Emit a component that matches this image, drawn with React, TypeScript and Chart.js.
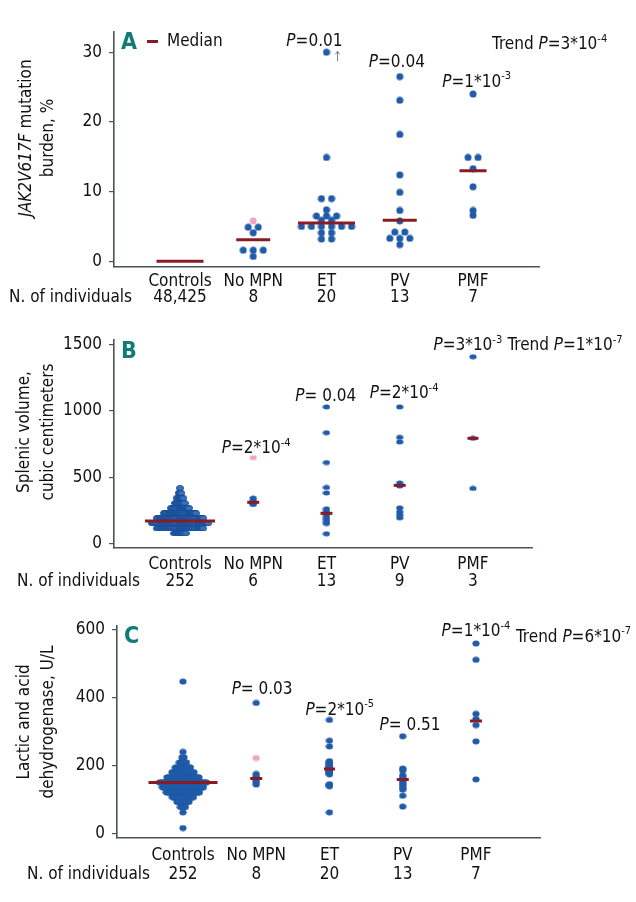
import React, { useEffect, useRef } from 'react';
import { Chart, registerables } from 'chart.js';
Chart.register(...registerables);

// ---------------- data ----------------
const CATEGORIES = ['Controls', 'No MPN', 'ET', 'PV', 'PMF'];
const N_ROW_LABEL = 'N. of individuals';

// Panel A: JAK2V617F mutation burden, %
const A_TICKS = [0, 10, 20, 30];
const A_N = ['48,425', '8', '20', '13', '7'];
const A_CONTROLS: number[] = [];
const A_NOMPN = [4.9, 4.9, 4.1, 1.6, 1.6, 1.6, 0.7];
const A_NOMPN_PINK = [5.8];
const A_ET = [30, 14.9, 9.0, 9.0, 7.4, 6.5, 6.5, 6.5, 5.9, 5.9, 5.0, 5.0, 5.0, 5.0, 5.0, 5.0, 4.1, 4.1, 3.2, 3.2];
const A_PV = [26.5, 23.1, 18.2, 12.4, 9.9, 7.3, 5.8, 4.2, 4.2, 3.3, 3.3, 3.3, 2.4];
const A_PMF = [24.0, 14.9, 14.9, 13.3, 10.7, 7.3, 6.6];
const A_MEDIANS = [0, 3.1, 5.5, 5.9, 13.0];
const A_P_TEXT = ['P=0.01', 'P=0.04', 'P=1*10^-3'];
const A_TREND = 'Trend P=3*10^-4';

// Panel B: splenic volume, cubic centimeters
const B_TICKS = [0, 500, 1000, 1500];
const B_N = ['252', '6', '13', '9', '3'];
const B_CTRL_BINS = [418, 380, 342, 304, 266, 228, 190, 152, 114, 76];
const B_CTRL_COUNTS = [1, 4, 8, 11, 20, 35, 50, 60, 50, 13];
const B_NOMPN = [342, 322, 312, 300, 294];
const B_NOMPN_PINK = [647];
const B_ET = [1030, 835, 610, 422, 381, 261, 240, 225, 205, 185, 165, 150, 73];
const B_PV = [1030, 800, 766, 456, 433, 268, 238, 215, 193];
const B_PMF = [1408, 793, 415];
const B_MEDIANS = [170, 310, 227, 438, 793];
const B_P_TEXT = ['P=2*10^-4', 'P= 0.04', 'P=2*10^-4', 'P=3*10^-3'];
const B_TREND = 'Trend P=1*10^-7';

// Panel C: lactic acid dehydrogenase, U/L
const C_TICKS = [0, 200, 400, 600];
const C_N = ['252', '8', '20', '13', '7'];
const C_CTRL_BINS = [448, 241, 225, 210, 195, 181, 166, 151, 137, 122, 108, 94, 79, 63, 17];
const C_CTRL_COUNTS = [1, 1, 3, 8, 16, 23, 33, 48, 42, 34, 22, 13, 6, 1, 1];
const C_NOMPN = [385, 176, 168, 163, 159, 152, 145];
const C_NOMPN_PINK = [223];
const C_ET = [335, 274, 257, 214, 210, 206, 202, 199, 196, 193, 190, 187, 184, 181, 178, 175, 146, 143, 140, 63];
const C_PV = [287, 192, 186, 172, 165, 160, 155, 148, 142, 135, 130, 112, 80];
const C_PMF = [560, 512, 353, 338, 320, 272, 160];
const C_MEDIANS = [151, 163, 191, 160, 332];
const C_P_TEXT = ['P= 0.03', 'P=2*10^-5', 'P= 0.51', 'P=1*10^-4'];
const C_TREND = 'Trend P=6*10^-7';

// ---------------- style / layout ----------------
const FONT = '"DejaVu Sans Condensed", "Liberation Sans Narrow", sans-serif';
const FS = 17;
const TEXT = '#111111';
const AXIS = '#4a5454';
const DOT = '#1f5ba8';
const DOT_LIGHT = '#3673c2';
const DOT_EDGE = '#174a8e';
const PINK = '#f4a3c6';
const MEDIAN = '#8a1a24';
const TEAL = '#117b77';
const PX_PER_CAT = 73.25;
const W = 636;

type Seg = { t: string; it?: boolean; sup?: boolean };
type Dot = { w: number; h: number; rx: number; ry: number };

interface PanelCfg {
  top: number; height: number;
  area: { l: number; r: number; t: number; b: number };
  xMin: number; xMax: number; yMin: number; yMax: number;
  ticks: number[];
  groups: number[][]; pink: number[][]; medians: number[];
  medianHalf: number[]; stepPx: number[];
  dot: Dot; ctrlEdge: boolean;
  nLabels: string[]; catY: number; nY: number; nRight: number;
  letter: string; title: Seg[][]; titleX: number[]; titleY: number;
  pText: string[]; pAt: number[][]; trend: string; trendAt: number[];
  legend?: boolean; arrow?: { group: number; value: number };
}

function expandBins(vals: number[], counts: number[]) {
  const out: number[] = [];
  vals.forEach((v, i) => { for (let k = 0; k < counts[i]; k++) out.push(v); });
  return out;
}

function swarm(values: number[], center: number, step: number) {
  const counts = new Map<number, number>();
  values.forEach(v => counts.set(v, (counts.get(v) || 0) + 1));
  const pts: { x: number; y: number }[] = [];
  counts.forEach((n, v) => {
    for (let i = 0; i < n; i++) pts.push({ x: center + (i - (n - 1) / 2) * step, y: v });
  });
  return pts;
}

function parseRich(s: string): Seg[] {
  const segs: Seg[] = [];
  let main = s, sup = '';
  const k = s.indexOf('^');
  if (k >= 0) { main = s.slice(0, k); sup = s.slice(k + 1); }
  const p = main.indexOf('P=');
  if (p >= 0) {
    if (p > 0) segs.push({ t: main.slice(0, p) });
    segs.push({ t: 'P', it: true });
    segs.push({ t: main.slice(p + 1) });
  } else segs.push({ t: main });
  if (sup) segs.push({ t: sup, sup: true });
  return segs;
}

function fontFor(seg: Seg, size: number) {
  return `${seg.it ? 'italic ' : ''}${seg.sup ? Math.round(size * 0.62) : size}px ${FONT}`;
}

function drawRich(ctx: CanvasRenderingContext2D, segs: Seg[], x: number, y: number, align: string, size: number) {
  let w = 0;
  segs.forEach(s => { ctx.font = fontFor(s, size); w += ctx.measureText(s.t).width; });
  let cx = align === 'center' ? x - w / 2 : align === 'right' ? x - w : x;
  ctx.textAlign = 'left';
  ctx.textBaseline = 'middle';
  segs.forEach(s => {
    ctx.font = fontFor(s, size);
    ctx.fillText(s.t, cx, s.sup ? y - size * 0.33 : y);
    cx += ctx.measureText(s.t).width;
  });
}

function dotImage(d: Dot, fill: string, edge?: string) {
  const c = document.createElement('canvas');
  c.width = d.w; c.height = d.h;
  const g = c.getContext('2d')!;
  g.beginPath();
  g.ellipse(d.w / 2, d.h / 2, d.rx, d.ry, 0, 0, Math.PI * 2);
  g.fillStyle = fill;
  g.fill();
  if (edge) { g.lineWidth = 0.9; g.strokeStyle = edge; g.stroke(); }
  return c;
}

function makeTextPlugin(cfg: PanelCfg) {
  return {
    id: 'panelText',
    afterDraw(chart: any) {
      const ctx: CanvasRenderingContext2D = chart.ctx;
      const xs = chart.scales.x, ys = chart.scales.y, a = chart.chartArea;
      ctx.save();
      // panel letter
      ctx.fillStyle = TEAL;
      ctx.font = `bold 23px ${FONT}`;
      ctx.textAlign = 'left';
      ctx.textBaseline = 'middle';
      ctx.fillText(cfg.letter, a.left + 7, a.top + 12);
      // legend
      if (cfg.legend) {
        ctx.strokeStyle = MEDIAN;
        ctx.lineWidth = 3;
        ctx.beginPath();
        ctx.moveTo(a.left + 33, a.top + 10);
        ctx.lineTo(a.left + 44, a.top + 10);
        ctx.stroke();
        ctx.fillStyle = TEXT;
        drawRich(ctx, [{ t: 'Median' }], a.left + 53, a.top + 10, 'left', FS);
      }
      ctx.fillStyle = TEXT;
      CATEGORIES.forEach((c, i) => drawRich(ctx, [{ t: c }], xs.getPixelForValue(i), cfg.catY, 'center', FS));
      cfg.nLabels.forEach((n, i) => drawRich(ctx, [{ t: n }], xs.getPixelForValue(i), cfg.nY, 'center', FS));
      drawRich(ctx, [{ t: N_ROW_LABEL }], cfg.nRight, cfg.nY, 'right', FS);
      // y axis title
      cfg.title.forEach((line, k) => {
        ctx.save();
        ctx.translate(cfg.titleX[k], cfg.titleY);
        ctx.rotate(-Math.PI / 2);
        drawRich(ctx, line, 0, 0, 'center', FS);
        ctx.restore();
      });
      // P values
      cfg.pText.forEach((t, i) => {
        const [px, py] = cfg.pAt[i];
        drawRich(ctx, parseRich(t), xs.getPixelForValue(px), ys.getPixelForValue(py), 'center', FS);
      });
      drawRich(ctx, parseRich(cfg.trend), xs.getPixelForValue(cfg.trendAt[0]), ys.getPixelForValue(cfg.trendAt[1]), 'left', FS);
      // off-scale arrow
      if (cfg.arrow) {
        const ax = xs.getPixelForValue(cfg.arrow.group) + 11;
        const ay = ys.getPixelForValue(cfg.arrow.value);
        ctx.strokeStyle = '#808080';
        ctx.lineWidth = 1;
        ctx.beginPath();
        ctx.moveTo(ax, ay + 9);
        ctx.lineTo(ax, ay - 1);
        ctx.moveTo(ax - 2, ay + 2);
        ctx.lineTo(ax, ay - 1);
        ctx.lineTo(ax + 2, ay + 2);
        ctx.stroke();
      }
      ctx.restore();
    },
  };
}

function buildChart(canvas: HTMLCanvasElement, cfg: PanelCfg) {
  const ctrl: any[] = [], dots: any[] = [], pink: any[] = [], med: any[] = [], medR: number[] = [];
  cfg.groups.forEach((vals, g) => {
    const pts = swarm(vals, g, cfg.stepPx[g] / PX_PER_CAT);
    if (g === 0) ctrl.push(...pts); else dots.push(...pts);
    pink.push(...swarm(cfg.pink[g], g, 10 / PX_PER_CAT));
    med.push({ x: g, y: cfg.medians[g] });
    medR.push(cfg.medianHalf[g]);
  });
  const dotImg = dotImage(cfg.dot, DOT);
  const ctrlImg = cfg.ctrlEdge ? dotImage(cfg.dot, DOT_LIGHT, DOT_EDGE) : dotImage(cfg.dot, DOT);
  const pinkImg = dotImage(cfg.dot, PINK);
  const a = cfg.area;
  return new Chart(canvas, {
    type: 'scatter',
    data: {
      datasets: [
        { label: 'median', data: med, pointStyle: 'line', pointRadius: medR, borderColor: MEDIAN, pointBorderColor: MEDIAN, pointBorderWidth: 3, order: 0 } as any,
        { label: 'pink', data: pink, pointStyle: pinkImg, pointRadius: 3.5, order: 1 } as any,
        { label: 'dots', data: dots, pointStyle: dotImg, pointRadius: 3.5, order: 2 } as any,
        { label: 'controls', data: ctrl, pointStyle: ctrlImg, pointRadius: 3.5, order: 3 } as any,
      ],
    },
    options: {
      responsive: false,
      animation: false,
      events: [],
      layout: { padding: { top: a.t, right: W - a.r, left: 0, bottom: 0 } },
      plugins: { legend: { display: false }, tooltip: { enabled: false } },
      scales: {
        x: {
          type: 'linear', min: cfg.xMin, max: cfg.xMax,
          ticks: { display: false },
          grid: { display: false, drawTicks: false },
          border: { display: true, color: AXIS, width: 1.6 },
          afterFit: (s: any) => { s.height = cfg.height - a.b; },
        },
        y: {
          type: 'linear', min: cfg.yMin, max: cfg.yMax,
          afterBuildTicks: (s: any) => { s.ticks = cfg.ticks.map(v => ({ value: v })); },
          ticks: { font: { family: FONT, size: FS }, color: TEXT, padding: 7, callback: (v: any) => String(v) },
          grid: { drawOnChartArea: false, drawTicks: true, tickLength: 5, color: AXIS, lineWidth: 1.2 },
          border: { display: true, color: AXIS, width: 1.6 },
          afterFit: (s: any) => { s.width = a.l; },
        },
      } as any,
    },
    plugins: [makeTextPlugin(cfg)],
  } as any);
}

// ---------------- panels ----------------
const PANELS: PanelCfg[] = [
  {
    top: 0, height: 308,
    area: { l: 114, r: 539, t: 17, b: 267 },
    xMin: -0.901, xMax: 4.901, yMin: -0.81, yMax: 32.97,
    ticks: A_TICKS,
    groups: [A_CONTROLS, A_NOMPN, A_ET, A_PV, A_PMF],
    pink: [[], A_NOMPN_PINK, [], [], []],
    medians: A_MEDIANS,
    medianHalf: [23.5, 17, 28.5, 17, 13.5],
    stepPx: [10, 10, 10, 10, 10],
    dot: { w: 8, h: 8, rx: 3.5, ry: 3.5 }, ctrlEdge: false,
    nLabels: A_N, catY: 282, nY: 297.5, nRight: 132,
    letter: 'A',
    title: [[{ t: 'JAK2V617F', it: true }, { t: ' mutation' }], [{ t: 'burden, %' }]],
    titleX: [27, 49], titleY: 138,
    pText: A_P_TEXT, pAt: [[1.835, 31.5], [2.96, 28.5], [4.05, 25.7]],
    trend: A_TREND, trendAt: [4.26, 31.1],
    legend: true, arrow: { group: 2, value: 30 },
  },
  {
    top: 302, height: 292,
    area: { l: 114, r: 532, t: 18, b: 246 },
    xMin: -0.901, xMax: 4.806, yMin: -34.4, yMax: 1534.4,
    ticks: B_TICKS,
    groups: [expandBins(B_CTRL_BINS, B_CTRL_COUNTS), B_NOMPN, B_ET, B_PV, B_PMF],
    pink: [[], B_NOMPN_PINK, [], [], []],
    medians: B_MEDIANS,
    medianHalf: [35, 6, 6, 6, 5.5],
    stepPx: [0.95, 10, 10, 10, 10],
    dot: { w: 8, h: 6, rx: 3.6, ry: 2.5 }, ctrlEdge: true,
    nLabels: B_N, catY: 263, nY: 280, nRight: 140,
    letter: 'B',
    title: [[{ t: 'Splenic volume,' }], [{ t: 'cubic centimeters' }]],
    titleX: [25, 48.5], titleY: 130,
    pText: B_P_TEXT, pAt: [[1.04, 716], [1.99, 1108], [3.06, 1128], [3.93, 1493]],
    trend: B_TREND, trendAt: [4.47, 1493],
  },
  {
    top: 588, height: 314,
    area: { l: 117, r: 540, t: 12, b: 250 },
    xMin: -0.901, xMax: 4.874, yMin: -12.4, yMax: 613.1,
    ticks: C_TICKS,
    groups: [expandBins(C_CTRL_BINS, C_CTRL_COUNTS), C_NOMPN, C_ET, C_PV, C_PMF],
    pink: [[], C_NOMPN_PINK, [], [], []],
    medians: C_MEDIANS,
    medianHalf: [34.5, 6, 5.5, 6, 6],
    stepPx: [1.0, 10, 10, 10, 10],
    dot: { w: 8, h: 7, rx: 3.6, ry: 3 }, ctrlEdge: false,
    nLabels: C_N, catY: 268, nY: 287, nRight: 150,
    letter: 'C',
    title: [[{ t: 'Lactic and acid' }], [{ t: 'dehydrogenase, U/L' }]],
    titleX: [25, 49], titleY: 134,
    pText: C_P_TEXT, pAt: [[1.08, 424], [2.14, 364], [3.10, 319], [4.0, 595]],
    trend: C_TREND, trendAt: [4.546, 579],
  },
];

function Panel({ cfg }: { cfg: PanelCfg }) {
  const ref = useRef<HTMLCanvasElement>(null);
  useEffect(() => {
    const chart = buildChart(ref.current!, cfg);
    return () => chart.destroy();
  }, [cfg]);
  return (
    <canvas
      ref={ref}
      width={W}
      height={cfg.height}
      style={{ position: 'absolute', left: 0, top: cfg.top, width: W, height: cfg.height }}
    />
  );
}

export default function App() {
  return (
    <div style={{ position: 'absolute', left: 0, top: 0, width: W, height: 902, overflow: 'hidden', background: '#ffffff' }}>
      {PANELS.map((p, i) => <Panel key={i} cfg={p} />)}
    </div>
  );
}
